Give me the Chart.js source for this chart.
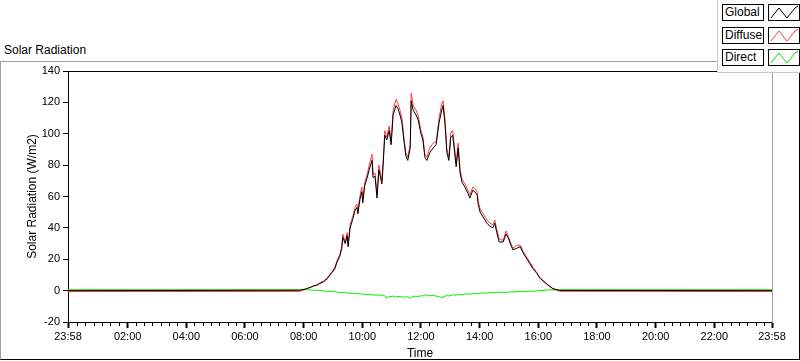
<!DOCTYPE html>
<html><head><meta charset="utf-8">
<script src="https://cdn.jsdelivr.net/npm/chart.js@4.4.0/dist/chart.umd.min.js"></script>
<style>
html,body{margin:0;padding:0;background:#fff;width:800px;height:361px;overflow:hidden;font-family:"Liberation Sans",Arial,sans-serif;}
#panel{position:absolute;left:0;top:61px;width:800px;height:299px;box-sizing:border-box;border-top:1px solid #a0a0a0;border-left:1px solid #a0a0a0;border-bottom:1px solid #000;border-right:1px solid #000;}
#title{position:absolute;left:4px;top:43px;font-size:12px;line-height:14px;color:#000;white-space:nowrap;}
#wrap{position:absolute;left:0;top:0;width:800px;height:361px;}
#legend{position:absolute;left:717px;top:0;width:83px;height:73px;background:#fff;border-left:1px solid #c8c8c8;border-bottom:1px solid #c8c8c8;box-sizing:border-box;}
.lt{position:absolute;left:4px;width:42px;height:17px;border:1px solid #000;box-sizing:border-box;font-size:12px;line-height:15px;padding-left:2px;color:#000;white-space:nowrap;}
.ls{position:absolute;left:50px;width:32px;height:17px;border:1px solid #000;box-sizing:border-box;}
.ls svg{position:absolute;left:0;top:0;}
</style></head>
<body>
<div id="panel"></div>
<div id="title">Solar Radiation</div>
<div id="wrap"><canvas id="c" width="800" height="361"></canvas></div>
<div id="legend">
  <div class="lt" style="top:4px">Global</div>
  <div class="ls" style="top:4px"><svg width="30" height="15"><polyline points="2,13 10,3 18,13 26,3 29,1" fill="none" stroke="#000" stroke-width="1"/></svg></div>
  <div class="lt" style="top:27px">Diffuse</div>
  <div class="ls" style="top:27px"><svg width="30" height="15"><polyline points="2,13 10,3 18,13 26,3 29,1" fill="none" stroke="#ff3a3a" stroke-width="1"/></svg></div>
  <div class="lt" style="top:49px">Direct</div>
  <div class="ls" style="top:49px"><svg width="30" height="15"><polyline points="2,13 10,3 18,13 26,3 29,1" fill="none" stroke="#00e000" stroke-width="1"/></svg></div>
</div>
<script>
// time in minutes since midnight (-2 = 23:58 of the previous day)
const times = [-2,472,483,493,499,507,513,520,528,534,538,544,548,554,558,560,565,569,571,575,579,581,585,589,591,595,599,601,605,610,614,620,622,626,630,634,640,642,646,650,655,659,663,669,673,677,681,685,689,693,698,700,704,710,714,720,724,728,732,738,745,751,757,763,765,769,773,777,781,785,792,796,800,804,810,816,820,826,830,835,837,841,847,855,861,867,871,875,880,888,894,898,904,908,916,923,929,937,943,949,957,963,978,990,1004,1438];
const globalVals = [0,0.2,1,2,2.8,3.5,4.5,5.5,7.5,10,11.5,14,18,22,27,34,30,35,28,40,44,46,51,53,49,58,63,56,67,72,77,83,72,73,59,77,68,77,99,96,102,93,112,118,116,112,107,96,86,83,91,121,115,112,109,100,96,85,83,88,91,93,107,116,118,107,88,83,98,99,79,91,75,69,66,62,59,64,63,61,55,50,47,43,41,40,43,37,31,31,36,34,29,26,27,28,24,20,17,14,11,8,4,1.3,0.1,0];
const diffuseVals = [-0.6,-0.5,0.8,2,3,3.8,5,6,8,10.5,12,15,19,23,28,36,31,37,29,42,46,48,53,55,51,60,66,58,69,74,80,87,74,75,61,80,70,79,102,98,105,95,115,122,119,115,110,98,88,85,93,126,118,115,112,102,98,87,85,91,94,95,110,120,121,110,90,85,101,102,81,94,77,71,68,64,61,66,65,63,57,52,49,45,43,42,45,39,33,32,38,35,30,27,29,29,25,21,18,15,11.5,8.5,4,1,-0.4,-0.6];
const directVals = [0.6,0.6,0.6,0.4,0.3,0.2,0,-0.2,-0.4,-0.5,-0.4,-0.7,-0.9,-1.1,-1.2,-1.0,-1.4,-1.5,-1.3,-1.7,-1.8,-1.6,-2.0,-1.9,-2.1,-2.0,-2.3,-2.1,-2.4,-2.5,-2.3,-2.7,-2.6,-2.9,-2.7,-3.0,-2.8,-3.3,-3.2,-4.8,-3.6,-3.9,-3.4,-4.2,-3.6,-4.0,-3.8,-4.3,-3.9,-4.1,-4.9,-4.2,-3.8,-3.5,-3.9,-3.2,-3.4,-2.9,-2.7,-3.3,-3.0,-3.5,-3.9,-4.4,-4.0,-3.6,-3.2,-3.4,-3.0,-2.7,-2.9,-2.5,-2.4,-2.7,-2.2,-2.1,-2.3,-1.9,-2.0,-1.7,-1.8,-1.6,-1.5,-1.6,-1.3,-1.4,-1.2,-1.2,-1.1,-1.0,-1.1,-0.9,-0.8,-0.9,-0.6,-0.7,-0.5,-0.4,-0.3,-0.4,-0.2,0,0.4,0.5,0.6,0.6];
const yTicks = [-20,0,20,40,60,80,100,120,140];
const xMajorTicks = [-2,120,240,360,480,600,720,840,960,1080,1200,1320,1438];
const xMinorTicks = [];
for (let b = 0; b < 12; b++) for (let k = 1; k < 7; k++) xMinorTicks.push(b * 120 + k * 120 / 7);

function fmt(v) {
  const m = ((Math.round(v) % 1440) + 1440) % 1440;
  return String(Math.floor(m / 60)).padStart(2, '0') + ':' + String(m % 60).padStart(2, '0');
}
const mk = vals => times.map((t, i) => ({x: t, y: vals[i]}));
const FONT = "'Liberation Sans', Arial, sans-serif";
Chart.defaults.font.family = FONT;
const line = (label, vals, color) => ({label, data: mk(vals), borderColor: color, backgroundColor: color,
  borderWidth: 1, pointRadius: 0, fill: false, tension: 0, xAxisID: 'x', yAxisID: 'y'});

new Chart(document.getElementById('c'), {
  type: 'line',
  data: {datasets: [
    line('Global', globalVals, '#000000'),
    line('Diffuse', diffuseVals, '#ff3a3a'),
    line('Direct', directVals, '#00ee00')
  ]},
  options: {
    responsive: false, animation: false, events: [],
    layout: {padding: {top: 71, right: 28, left: 0, bottom: 0}},
    plugins: {legend: {display: false}, tooltip: {enabled: false}},
    scales: {
      x: {type: 'linear', position: 'bottom', weight: 1, min: -2, max: 1438,
        afterBuildTicks: s => { s.ticks = xMajorTicks.map(v => ({value: v})); },
        afterFit: s => { s.height = 39; },
        ticks: {autoSkip: false, maxRotation: 0, color: '#000', font: {size: 11}, padding: 2, callback: v => fmt(v)},
        grid: {display: true, drawOnChartArea: false, tickLength: 6, tickWidth: 2, tickColor: '#000'},
        border: {display: true, color: '#000', width: 1},
        title: {display: true, text: 'Time', color: '#000', font: {size: 12}, padding: {top: 0, bottom: 0}}
      },
      xm: {type: 'linear', position: 'bottom', weight: 0, min: -2, max: 1438,
        afterBuildTicks: s => { s.ticks = xMinorTicks.map(v => ({value: v})); },
        afterFit: s => { s.height = 0; },
        ticks: {display: false},
        grid: {display: true, drawOnChartArea: false, tickLength: 4, tickWidth: 1, tickColor: '#000'},
        border: {display: false}
      },
      xt: {type: 'linear', position: 'top', min: -2, max: 1438,
        afterFit: s => { s.height = 0; },
        ticks: {display: false}, grid: {display: false},
        border: {display: true, color: '#000', width: 1}
      },
      y: {type: 'linear', position: 'left', min: -20, max: 140,
        afterBuildTicks: s => { s.ticks = yTicks.map(v => ({value: v})); },
        afterFit: s => { s.width = 68; },
        ticks: {color: '#000', font: {size: 11}, padding: 3},
        grid: {display: true, drawOnChartArea: false, tickLength: 5, tickColor: '#000'},
        border: {display: true, color: '#000', width: 1},
        title: {display: true, text: 'Solar Radiation (W/m2)', color: '#000', font: {size: 12}, padding: {top: 25, bottom: 0}}
      },
      yr: {type: 'linear', position: 'right', min: -20, max: 140,
        afterFit: s => { s.width = 0; },
        ticks: {display: false}, grid: {display: false},
        border: {display: true, color: '#a0a0a0', width: 1}
      }
    }
  }
});
</script>
</body></html>
